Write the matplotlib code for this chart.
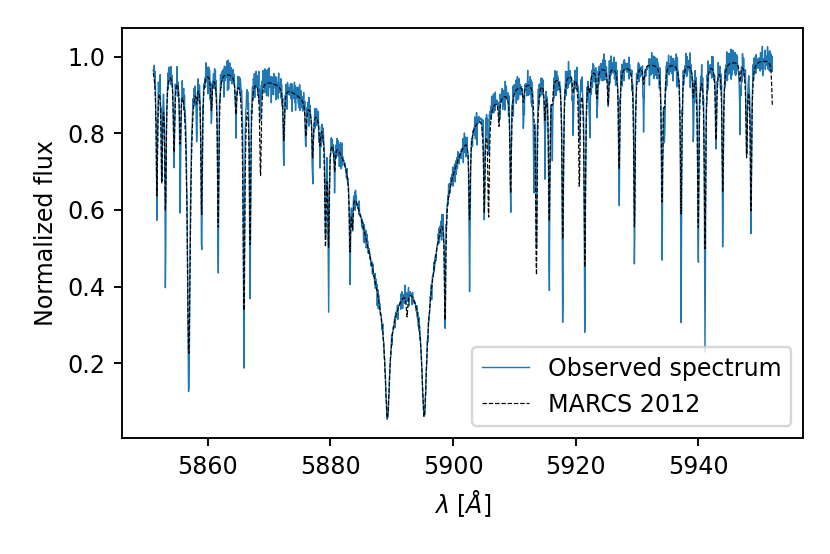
import numpy as np
import matplotlib.pyplot as plt

# wavelength range of the spectrum [A]
wl_start = 5851.1
wl_end = 5952.1
wl_step = 0.06

# Na D doublet, each line as three Lorentzian optical-depth components
na_centre = [5889.3, 5889.3, 5889.3, 5895.3, 5895.3, 5895.3]
na_strength = [19.0, 1.0, 0.14, 8.0, 1.3, 0.14]
na_width2 = [27.0, 3.9, 0.08, 27.0, 3.0, 0.08]

# metal lines: centre, depth in observed spectrum, depth in MARCS model
line_wl = [5851.7, 5852.5, 5853.1, 5854.5, 5855.5, 5856.9, 5858.2, 5859.0,
           5860.6, 5861.7, 5864.6, 5865.9, 5866.9, 5868.6, 5872.4, 5876.0,
           5877.1, 5878.3, 5879.2, 5879.7, 5880.7, 5883.2, 5883.6, 5892.5,
           5898.7, 5902.7, 5905.1, 5905.8, 5907.5, 5909.4, 5911.5, 5913.2,
           5913.6, 5915.0, 5915.7, 5916.2, 5917.9, 5919.6, 5920.6, 5921.5,
           5922.3, 5923.5, 5925.3, 5927.1, 5929.6, 5931.1, 5934.1, 5934.5,
           5937.2, 5939.2, 5940.0, 5941.1, 5942.9, 5944.0, 5946.8, 5947.9,
           5948.6, 5952.1]
obs_depth = [0.38, 0.31, 0.59, 0.27, 0.37, 0.88, 0.16, 0.52,
             0.15, 0.55, 0.15, 0.83, 0.63, 0.12, 0.23, 0.14,
             0.24, 0.15, 0.36, 0.59, 0.12, 0.38, 0.15, 0.05,
             0.54, 0.51, 0.33, 0.15, 0.05, 0.34, 0.12, 0.30,
             0.45, 0.22, 0.60, 0.17, 0.71, 0.17, 0.17, 0.74,
             0.17, 0.14, 0.10, 0.36, 0.55, 0.16, 0.53, 0.20,
             0.66, 0.20, 0.53, 0.76, 0.24, 0.49, 0.17, 0.26,
             0.46, 0.00]
model_depth = [0.34, 0.30, 0.38, 0.22, 0.18, 0.77, 0.05, 0.39,
               0.10, 0.43, 0.10, 0.65, 0.46, 0.27, 0.15, 0.10,
               0.15, 0.08, 0.38, 0.37, 0.10, 0.27, 0.15, 0.16,
               0.50, 0.28, 0.30, 0.33, 0.08, 0.30, 0.05, 0.05,
               0.55, 0.10, 0.40, 0.05, 0.46, 0.05, 0.31, 0.54,
               0.05, 0.08, 0.10, 0.28, 0.44, 0.05, 0.37, 0.08,
               0.40, 0.08, 0.44, 0.49, 0.20, 0.35, 0.05, 0.25,
               0.39, 0.12]
model_width = [0.14] * len(line_wl)
model_width[5] = 0.30
model_width[11] = 0.18
obs_width = 0.1

# observed noise residuals (two short hand-read patterns)
noise_a = [0.3, -0.8, 0.5, 0.1, -0.4, 0.9, -0.2, -1.3, 0.6, 0.0, -0.5, 0.8,
           -0.9, 0.2, 0.4, -0.3, 0.7, -1.6, -0.1, 1.0, -0.8, 0.3, -0.4, 0.6,
           0.1, -1.0, 0.5, -0.2, 0.8, -1.4, 0.2, -0.7, 0.9, -0.3, 0.0, 0.4, -0.6]
noise_b = [-0.4, 0.6, -0.1, 0.9, -0.7, 0.2, 0.5, -0.9, 0.0, 0.3, -1.2, 0.8,
           -0.2, -0.6, 0.7, 0.1, -0.8, 0.4, -0.3, 0.6, -1.5, 0.2, 0.9, -0.4,
           0.0, 0.5, -0.7, 0.3, -0.2, 0.8, -0.5, 0.1, 0.6, -1.1, 0.4, -0.1,
           0.7, -0.6, 0.2, -0.3, 1.0, -0.8, 0.3]
noise_scale = 0.022

wl = np.arange(wl_start, wl_end, wl_step)

tau = np.zeros_like(wl)
for c, s, g2 in zip(na_centre, na_strength, na_width2):
    tau += s / ((wl - c) ** 2 + g2)
na_flux = np.exp(-tau)

model = na_flux.copy()
obs = na_flux.copy()
for c, d_obs, d_mod, w in zip(line_wl, obs_depth, model_depth, model_width):
    model *= 1 - d_mod / (1 + ((wl - c) / w) ** 2)
    w_obs = obs_width if w < 0.2 else w * 0.8
    obs *= 1 - d_obs / (1 + ((wl - c) / w_obs) ** 2)

noise = np.resize(noise_a, wl.size) + np.resize(noise_b, wl.size)
obs = obs + noise_scale * noise * np.sqrt(obs)

fig = plt.figure(figsize=(830 / 171, 554 / 171), dpi=171)
ax = fig.add_subplot(111)
fig.subplots_adjust(left=0.1473, right=0.9678, bottom=0.2094, top=0.95)

ax.plot(wl, obs, lw=0.6, label='Observed spectrum')
ax.plot(wl, model, 'k--', lw=0.5, label='MARCS 2012')
ax.set_xlabel(r'$\lambda$ [$Å$]')
ax.set_ylabel('Normalized flux')
ax.legend(loc='lower right')

fig.savefig('out.png', dpi=171)
